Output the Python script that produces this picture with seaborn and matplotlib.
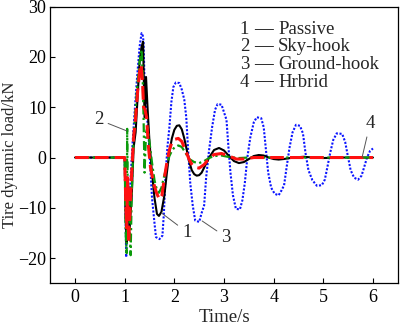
import matplotlib
matplotlib.use("Agg")
import matplotlib.pyplot as plt
import seaborn as sns
import pandas as pd

# Tire dynamic load of four suspension control strategies over a bump
t_passive = [0, 1.00, 1.02, 1.04, 1.07, 1.10, 1.14, 1.18, 1.22, 1.26, 1.30, 1.34, 1.37,
             1.40, 1.43, 1.46, 1.50, 1.55, 1.60, 1.65, 1.69, 1.74, 1.80, 1.85, 1.90,
             1.95, 2.00, 2.05, 2.10, 2.15, 2.20, 2.25, 2.30, 2.35, 2.40, 2.45, 2.50,
             2.55, 2.60, 2.70, 2.80, 2.90, 3.00, 3.10, 3.20, 3.30, 3.40, 3.50, 3.60,
             3.70, 3.80, 3.90, 4.00, 4.10, 4.20, 4.40, 4.60, 4.80, 5.00, 5.40, 6.00]
passive = [0, 0, -12, -17, -5, -14, -8, 2, 5, 12, 19, 22, 23,
           8, 16, 10, 3, -3, -8, -11.2, -11.6, -10.8, -7.5, -3, 1,
           3.8, 5.5, 6.3, 6.4, 5.6, 3.8, 1.5, -0.8, -2.5, -3.3, -3.6, -3.5,
           -3.0, -2.0, 0, 1.5, 1.9, 1.4, 0.3, -0.7, -1.1, -0.9, -0.3, 0.3,
           0.5, 0.4, 0, -0.3, -0.4, -0.3, 0, 0.15, 0, -0.1, 0, 0]

t_skyhook = [0, 1.00, 1.02, 1.04, 1.05, 1.06, 1.09, 1.12, 1.14, 1.18, 1.22, 1.26, 1.30,
             1.34, 1.36, 1.38, 1.40, 1.43, 1.46, 1.50, 1.55, 1.60, 1.65, 1.69, 1.74,
             1.80, 1.85, 1.90, 1.95, 2.00, 2.08, 2.15, 2.20, 2.25, 2.30, 2.40, 2.50,
             2.60, 2.70, 2.80, 2.95, 3.10, 3.30, 3.50, 6.00]
skyhook = [0, 0, -15, -19, 5.7, -5, -10, -19.4, -8, 4, 10, 15, 19,
           21.4, 17, 8, -3, 5, 6, 3, -1, -4.5, -6.5, -7, -6,
           -3.5, -1.5, 0.3, 1.3, 2.0, 2.4, 2.1, 1.3, 0.5, -0.3, -0.9, -1.1,
           -0.7, -0.1, 0.3, 0.4, 0.1, -0.1, 0, 0]

t_groundhook = [0, 1.00, 1.03, 1.06, 1.09, 1.12, 1.16, 1.20, 1.25, 1.30, 1.34, 1.36, 1.38,
                1.40, 1.44, 1.47, 1.50, 1.55, 1.60, 1.63, 1.70, 1.76, 1.79, 1.82, 1.86,
                1.90, 1.94, 1.98, 2.03, 2.10, 2.15, 2.20, 2.24, 2.28, 2.32, 2.37, 2.42,
                2.50, 2.55, 2.60, 2.64, 2.70, 2.76, 2.82, 2.87, 2.95, 3.00, 3.05, 3.09,
                3.13, 3.18, 3.24, 3.32, 3.37, 3.42, 3.47, 3.53, 3.60, 3.66, 3.75, 3.80,
                3.84, 3.89, 3.95, 4.02, 4.10, 4.16, 4.21, 4.26, 4.32, 4.38, 4.45, 4.53,
                4.59, 4.64, 4.70, 4.78, 4.87, 4.97, 5.03, 5.08, 5.14, 5.20, 5.27, 5.38,
                5.44, 5.49, 5.55, 5.62, 5.70, 5.77, 5.82, 5.88, 5.94, 6.00]
groundhook = [0, 0, -19.8, -8, -15, -4, 3, 9, 16, 22, 24.7, 24.5, 23,
              15, 9, 6, 1, -8, -13, -15.8, -16.2, -15.5, -11, -4, 2,
              6, 11, 14, 14.9, 14.8, 13.5, 11.5, 8, 1, -5, -9.5, -12.5,
              -12.8, -11, -9.5, -4, 1.5, 6, 9.5, 10.6, 10.5, 9, 7.5, 2,
              -3, -7.5, -10.2, -10.3, -8.5, -5, 0, 4, 7, 8, 7.8, 6,
              2, -3, -6, -7.2, -7.5, -6.5, -5.5, -2, 2, 5, 6.5, 6.3,
              4.8, 1, -2.5, -4.5, -5.6, -5.5, -4.4, -2, 1, 3.5, 4.8, 4.7,
              3.1, 0.5, -2.5, -4, -4.4, -3.6, -2, 0, 1.3, 1.8]

t_hybrid = [0, 1.00, 1.02, 1.04, 1.06, 1.08, 1.11, 1.14, 1.18, 1.22, 1.26, 1.30, 1.33,
            1.36, 1.38, 1.41, 1.44, 1.48, 1.52, 1.58, 1.64, 1.70, 1.75, 1.80, 1.85,
            1.90, 1.95, 2.00, 2.08, 2.15, 2.20, 2.25, 2.30, 2.35, 2.40, 2.50, 2.60,
            2.70, 2.80, 2.95, 3.10, 3.25, 3.40, 3.60, 6.00]
hybrid = [0, 0, -8, -14, -4, -17, -10, -3, 4, 8, 13, 17, 18.5,
          15, 10, 9.5, 8, 2, -2, -5, -7, -8.3, -7.5, -4, -1,
          1.5, 3.0, 3.6, 3.8, 3.2, 2.0, 0.8, -0.4, -1.3, -1.9, -2.1, -1.4,
          -0.2, 0.6, 0.8, 0.3, -0.3, -0.3, 0, 0]

legend_numbers = ["1", "2", "3", "4"]
legend_names = ["Passive", "Sky-hook", "Ground-hook", "Hrbrid"]
x_ticks = [0, 1, 2, 3, 4, 5, 6]
y_ticks = [-20, -10, 0, 10, 20, 30]

sns.set_theme(style="ticks")
plt.rcParams["font.family"] = ["Liberation Serif", "DejaVu Serif"]
plt.rcParams["axes.unicode_minus"] = True

fig = plt.figure(figsize=(4.0, 3.25), dpi=100)
ax = fig.add_axes([0.1255, 0.128, 0.869, 0.852])

series = [
    (t_groundhook, groundhook, dict(color="#0a14ff", linestyle=(0, (1.0, 0.8)), linewidth=1.5)),
    (t_passive, passive, dict(color="black", linestyle="-", linewidth=1.5)),
    (t_skyhook, skyhook, dict(color="#0a9a0a", linestyle=(0, (4, 1.5, 1, 1.5)), linewidth=1.6)),
    (t_hybrid, hybrid, dict(color="#ff1010", linestyle=(0, (4.5, 2)), linewidth=2.2)),
]
for t, v, style in series:
    df = pd.DataFrame({"t": t, "v": v})
    sns.lineplot(data=df, x="t", y="v", ax=ax, sort=False, estimator=None, **style)

ax.set_xlim(-0.5, 6.5)
ax.set_ylim(-25, 30)
ax.set_xticks(x_ticks)
ax.set_yticks(y_ticks)
ax.tick_params(axis="both", direction="in", length=3.5, width=0.8,
               labelsize=13, colors="black", top=False, right=False)
ax.tick_params(axis="x", pad=4)
ax.tick_params(axis="y", pad=3)
for s in ax.spines.values():
    s.set_color("black")
    s.set_linewidth(0.9)

ax.set_xlabel("Time/s", fontsize=13.5, labelpad=2)
ax.set_ylabel("Tire dynamic load/kN", fontsize=12)
ax.yaxis.set_label_coords(-0.093, 0.466)

# legend written as numbered text lines
for i, (num, name) in enumerate(zip(legend_numbers, legend_names)):
    y = 25.5 - 3.5 * i
    ax.text(3.32, y, num, fontsize=13.5, ha="left", va="center")
    ax.text(3.6, y, "\u2014", fontsize=13.5, fontweight="bold", ha="left", va="center")
    ax.text(4.09, y, name, fontsize=13.5, ha="left", va="center")

# curve labels with leader lines
leader = dict(arrowstyle="-", color="#555555", lw=0.7, shrinkA=1, shrinkB=0)
ax.annotate("1", xy=(1.74, -11.0), xytext=(2.25, -14.8), fontsize=13.5,
            ha="center", va="center", arrowprops=leader)
ax.annotate("2", xy=(1.04, 5.3), xytext=(0.48, 7.5), fontsize=13.5,
            ha="center", va="center", arrowprops=leader)
ax.annotate("3", xy=(2.56, -12.6), xytext=(3.04, -15.8), fontsize=13.5,
            ha="center", va="center", arrowprops=leader)
ax.annotate("4", xy=(5.78, 0.0), xytext=(5.94, 6.7), fontsize=13.5,
            ha="center", va="center", arrowprops=leader)

fig.savefig("out.png", dpi=100)
